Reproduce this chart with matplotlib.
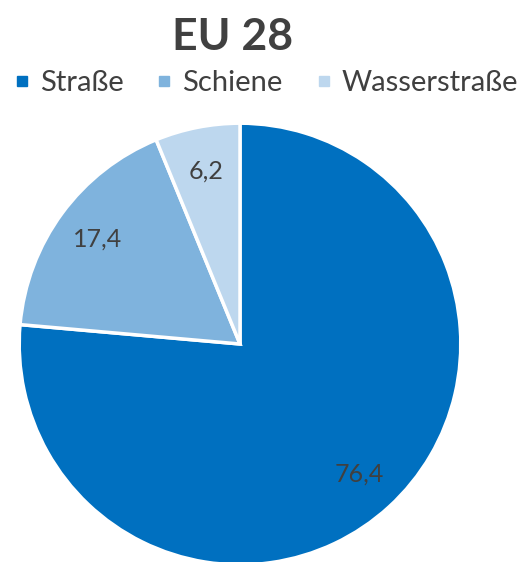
import matplotlib
matplotlib.use("Agg")
import matplotlib.pyplot as plt
from matplotlib.lines import Line2D

plt.rcParams['font.family'] = ['Lato', 'DejaVu Sans']

title = "EU 28"
categories = ["Straße", "Schiene", "Wasserstraße"]
values = [76.4, 17.4, 6.2]
colors = ["#0070C0", "#7FB3DD", "#BDD7EE"]
text_color = "#404040"

fig = plt.figure(figsize=(5.28, 5.62), dpi=100)
R = 223
cx, cy = 240, 344
ax = fig.add_axes([(cx - R)/528, (562 - cy - R)/562, 2*R/528, 2*R/562])

wedges, texts, autotexts = ax.pie(
    values, colors=colors, startangle=90, counterclock=False,
    autopct=lambda p: f"{p:.1f}".replace(".", ","), pctdistance=0.8,
    wedgeprops=dict(edgecolor="white", linewidth=2.5),
    textprops=dict(color=text_color, fontsize=18))
ax.set_xlim(-1.01, 1.01)
ax.set_ylim(-1.01, 1.01)
ax.set_aspect("equal")
ax.axis("off")

fig.text(233/528, 1 - 37/562, title, ha="center", va="center",
         fontsize=32, fontweight="bold", color=text_color)

handles = [Line2D([], [], marker="s", linestyle="none", markersize=7.5,
                  markerfacecolor=c, markeredgecolor=c) for c in colors]
leg = fig.legend(handles, categories, loc="center", bbox_to_anchor=(264/528, 1 - 83/562),
                 ncol=3, frameon=False, fontsize=21, handlelength=0.8,
                 handletextpad=0.22, columnspacing=1.0, borderpad=0, borderaxespad=0)
for t in leg.get_texts():
    t.set_color(text_color)

fig.savefig("out.png", dpi=100, facecolor="white")
